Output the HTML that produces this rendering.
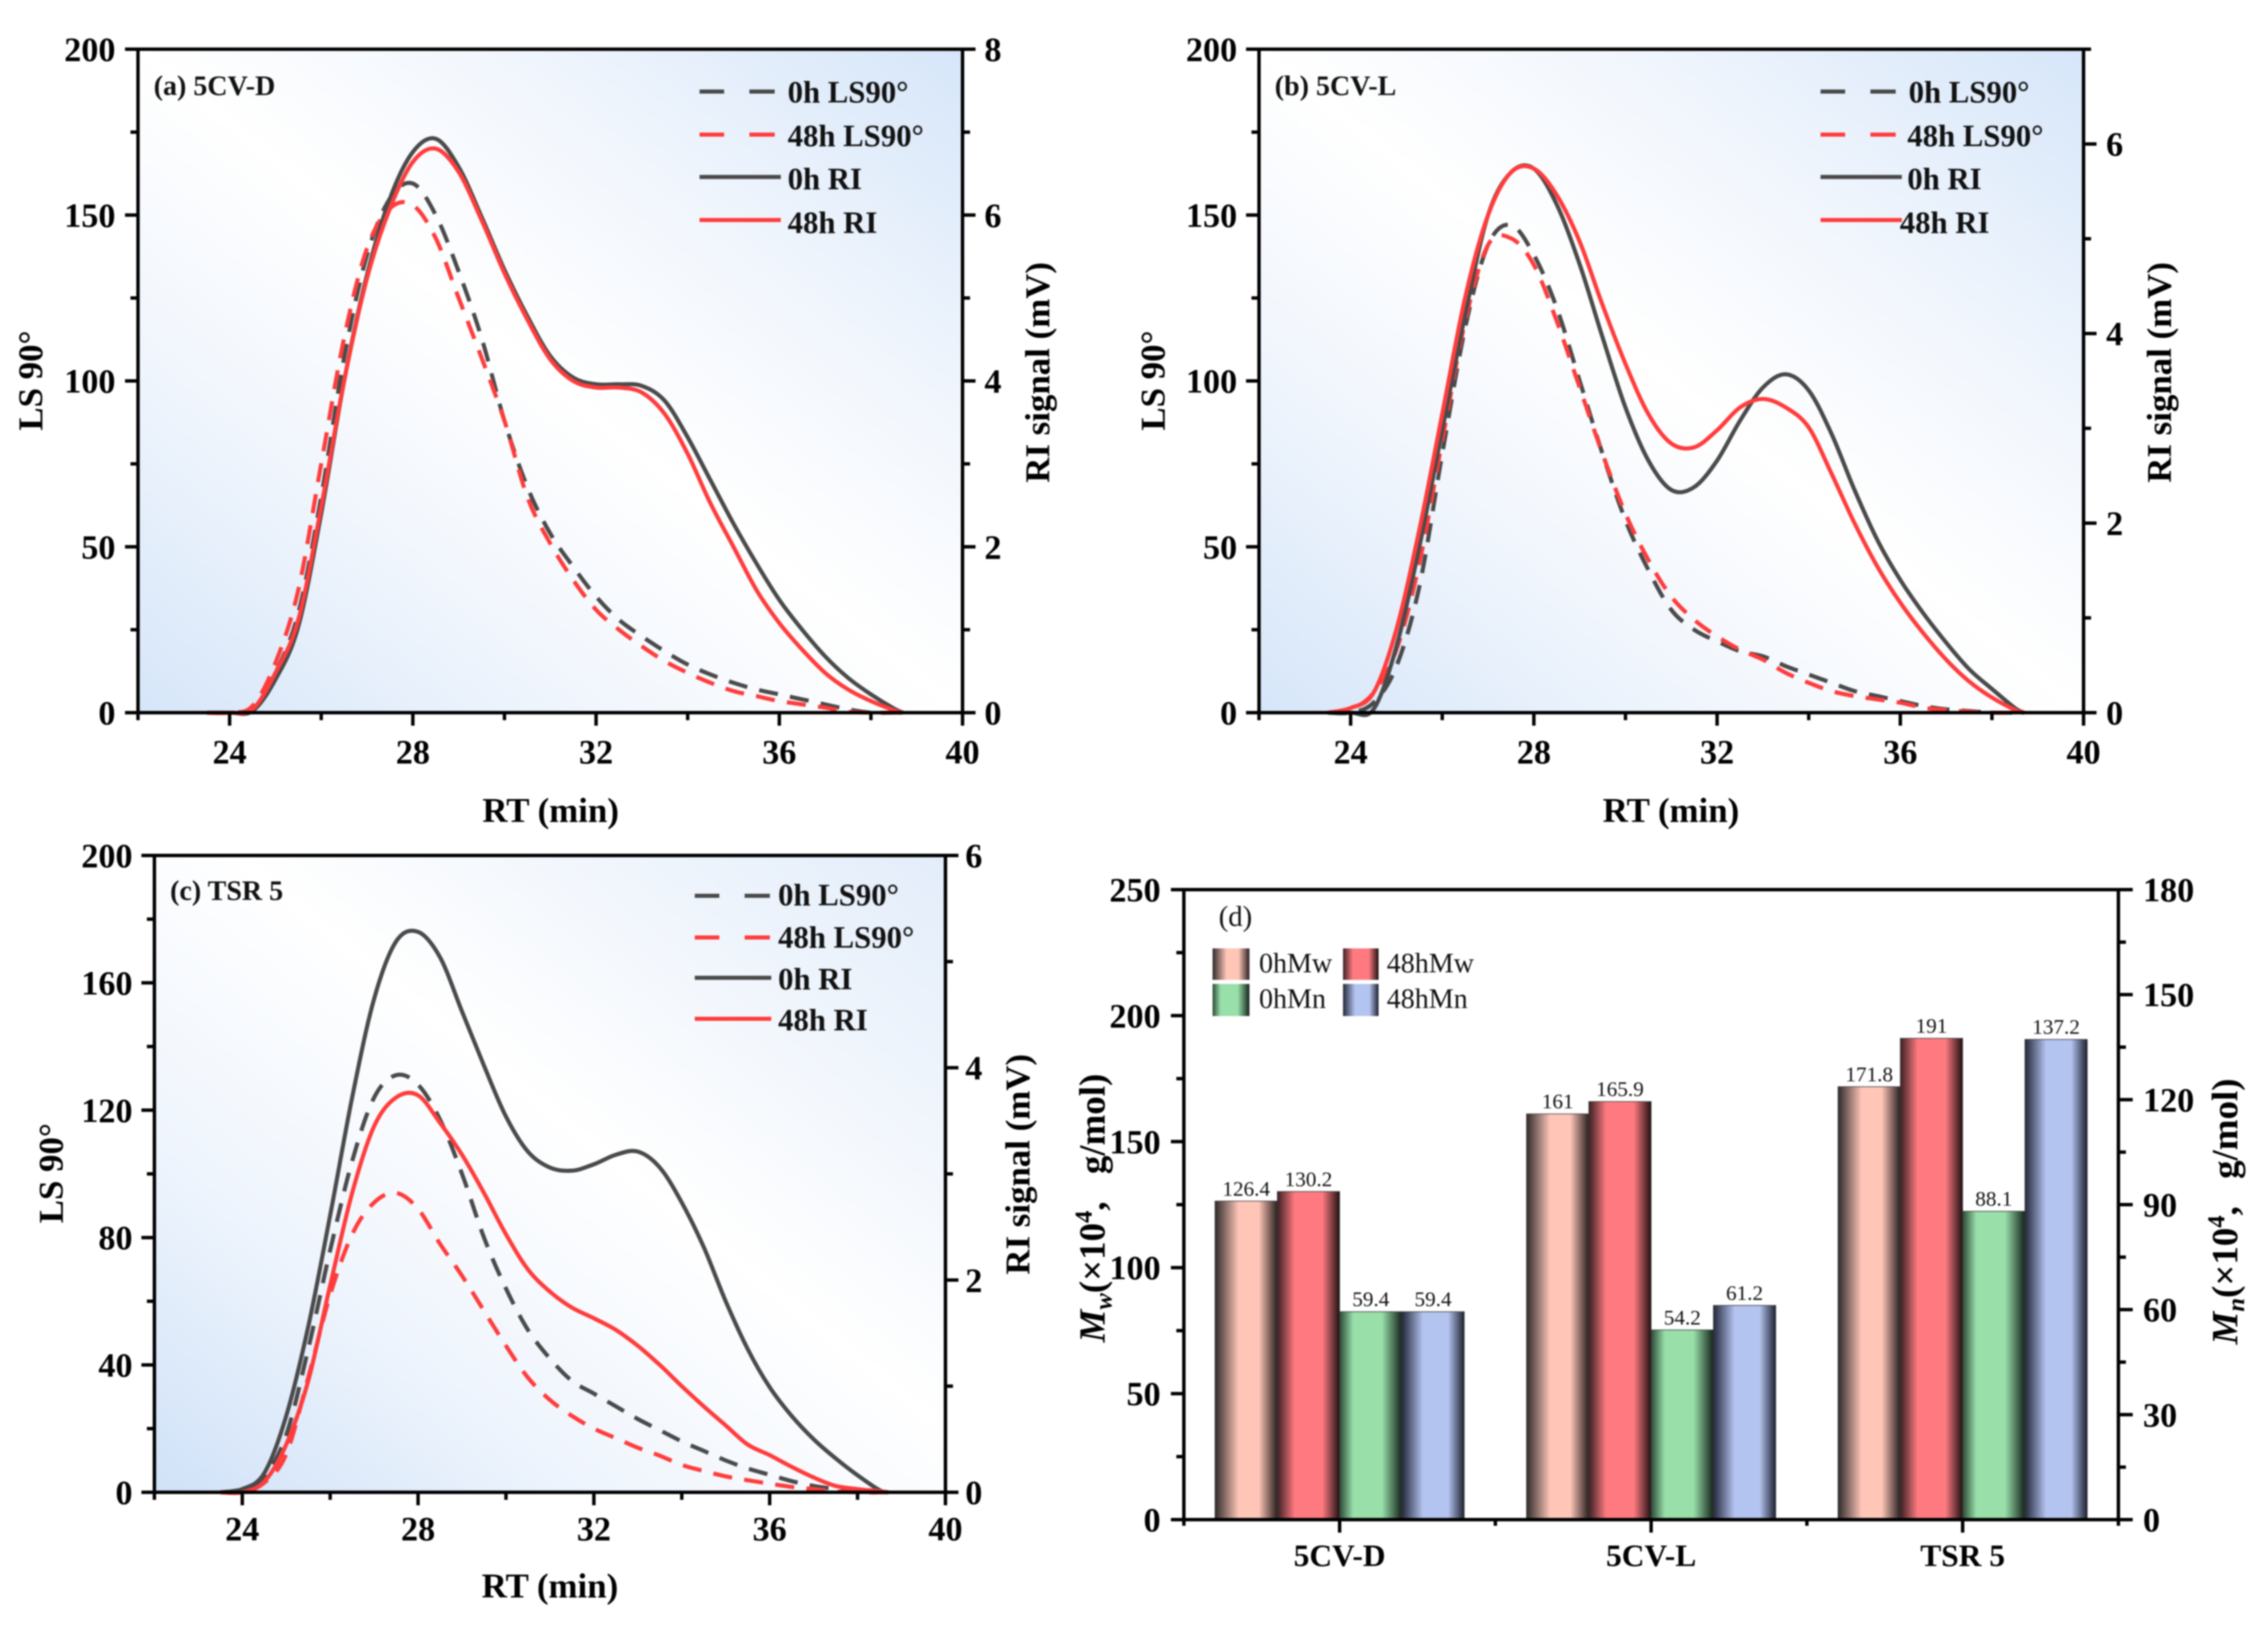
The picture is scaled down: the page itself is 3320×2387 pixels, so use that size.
<!DOCTYPE html>
<html lang="en">
<head>
<meta charset="utf-8">
<title>GPC curves and molecular weights</title>
<style>
html,body{margin:0;padding:0;background:#fff;}
svg{display:block;font-family:"Liberation Serif",serif;filter:blur(1px);}
.b{font-weight:bold;}
.tick{font-size:50px;font-weight:bold;fill:#000;}
.leg{font-size:45px;font-weight:bold;fill:#111;}
.plab{font-size:41px;font-weight:bold;fill:#111;}
.atitle{font-size:51px;font-weight:bold;fill:#000;}
.mtitle{font-size:54px;font-weight:bold;fill:#000;}
.val{font-size:31px;fill:#111;}
.dleg{font-size:41px;fill:#111;}
</style>
</head>
<body>
<svg id="figure" xmlns="http://www.w3.org/2000/svg" width="3320" height="2387" viewBox="0 0 3320 2387">
<defs>
<linearGradient id="plotBg" x1="0" y1="1" x2="1" y2="0">
<stop offset="0" stop-color="#d6e6f9"/><stop offset="0.28" stop-color="#f1f6fd"/><stop offset="0.5" stop-color="#ffffff"/><stop offset="0.72" stop-color="#f1f6fd"/><stop offset="1" stop-color="#d6e6f9"/>
</linearGradient>
<linearGradient id="plotBgC" x1="0" y1="1" x2="1" y2="0">
<stop offset="0" stop-color="#d0e2f8"/><stop offset="0.28" stop-color="#eff5fd"/><stop offset="0.55" stop-color="#ffffff"/><stop offset="1" stop-color="#e3edfa"/>
</linearGradient>
<linearGradient id="bar0hMw"><stop offset="0" stop-color="#2e2a2a"/><stop offset="0.38" stop-color="#ffc6b8"/><stop offset="0.7" stop-color="#ffc6b8"/><stop offset="1" stop-color="#2a1f1f"/></linearGradient>
<linearGradient id="bar48hMw"><stop offset="0" stop-color="#3a2022"/><stop offset="0.28" stop-color="#ff7a80"/><stop offset="0.72" stop-color="#ff7a80"/><stop offset="1" stop-color="#1f1012"/></linearGradient>
<linearGradient id="bar0hMn"><stop offset="0" stop-color="#2c4a36"/><stop offset="0.22" stop-color="#98dfaa"/><stop offset="0.68" stop-color="#98dfaa"/><stop offset="1" stop-color="#14231a"/></linearGradient>
<linearGradient id="bar48hMn"><stop offset="0" stop-color="#23273a"/><stop offset="0.34" stop-color="#b4c4f0"/><stop offset="0.74" stop-color="#b4c4f0"/><stop offset="1" stop-color="#1c2030"/></linearGradient>
</defs>

<g id="panel-a"></g>
<g id="panel-b"></g>
<g id="panel-c"></g>
<g id="panel-d"></g>

<g>
<text class="plab" x="225" y="139">(a) 5CV-D</text>
<text class="atitle" x="806" y="1203" text-anchor="middle">RT (min)</text>
<text class="atitle" transform="translate(62,557) rotate(-90)" text-anchor="middle">LS 90°</text>
<text class="atitle" transform="translate(1536,545) rotate(-90)" text-anchor="middle">RI signal (mV)</text>
<g>
<path d="M1024 134H1060M1097 134H1134" stroke="#4a4a4a" stroke-width="6" fill="none"/>
<path d="M1024 197H1060M1097 197H1134" stroke="#ff3c3c" stroke-width="6" fill="none"/>
<path d="M1024 259H1143" stroke="#4a4a4a" stroke-width="6" fill="none"/>
<path d="M1024 322H1143" stroke="#ff3c3c" stroke-width="6" fill="none"/>
<text class="leg" x="1153" y="150">0h LS90°</text>
<text class="leg" x="1153" y="214">48h LS90°</text>
<text class="leg" x="1153" y="277">0h RI</text>
<text class="leg" x="1153" y="341">48h RI</text>
</g>
</g>

<g>
<text class="plab" x="1866" y="139">(b) 5CV-L</text>
<text class="atitle" x="2446" y="1203" text-anchor="middle">RT (min)</text>
<text class="atitle" transform="translate(1705,557) rotate(-90)" text-anchor="middle">LS 90°</text>
<text class="atitle" transform="translate(3178,545) rotate(-90)" text-anchor="middle">RI signal (mV)</text>
<g>
<path d="M2665 134H2701M2738 134H2775" stroke="#4a4a4a" stroke-width="6" fill="none"/>
<path d="M2665 197H2701M2738 197H2775" stroke="#ff3c3c" stroke-width="6" fill="none"/>
<path d="M2665 259H2784" stroke="#4a4a4a" stroke-width="6" fill="none"/>
<path d="M2665 322H2784" stroke="#ff3c3c" stroke-width="6" fill="none"/>
<text class="leg" x="2794" y="150">0h LS90°</text>
<text class="leg" x="2792" y="214">48h LS90°</text>
<text class="leg" x="2792" y="277">0h RI</text>
<text class="leg" x="2781" y="341">48h RI</text>
</g>
</g>

<g>
<text class="plab" x="249" y="1317">(c) TSR 5</text>
<text class="atitle" x="805" y="2338" text-anchor="middle">RT (min)</text>
<text class="atitle" transform="translate(92,1717) rotate(-90)" text-anchor="middle">LS 90°</text>
<text class="atitle" transform="translate(1507,1704) rotate(-90)" text-anchor="middle">RI signal (mV)</text>
<g>
<path d="M1017 1311H1053M1090 1311H1127" stroke="#4a4a4a" stroke-width="6" fill="none"/>
<path d="M1017 1372H1053M1090 1372H1127" stroke="#ff3c3c" stroke-width="6" fill="none"/>
<path d="M1017 1431H1129" stroke="#4a4a4a" stroke-width="6" fill="none"/>
<path d="M1017 1491H1129" stroke="#ff3c3c" stroke-width="6" fill="none"/>
<text class="leg" x="1139" y="1325">0h LS90°</text>
<text class="leg" x="1139" y="1387">48h LS90°</text>
<text class="leg" x="1139" y="1448">0h RI</text>
<text class="leg" x="1139" y="1508">48h RI</text>
</g>
</g>

<g>
<text x="1784" y="1355" font-size="42" fill="#111">(d)</text>
<g>
<rect x="1775" y="1388" width="54" height="46" fill="url(#bar0hMw)"/>
<rect x="1966" y="1388" width="52" height="46" fill="url(#bar48hMw)"/>
<rect x="1775" y="1440" width="54" height="47" fill="url(#bar0hMn)"/>
<rect x="1966" y="1440" width="52" height="47" fill="url(#bar48hMn)"/>
<text class="dleg" x="1843" y="1423">0hMw</text>
<text class="dleg" x="2030" y="1423">48hMw</text>
<text class="dleg" x="1843" y="1475">0hMn</text>
<text class="dleg" x="2030" y="1475">48hMn</text>
</g>
<text class="mtitle" transform="translate(1617,1768) rotate(-90)" text-anchor="middle"><tspan font-style="italic">M</tspan><tspan font-style="italic" dy="10" font-size="36">w</tspan><tspan dy="-10">(×10</tspan><tspan dy="-19" font-size="36">4</tspan><tspan dy="19">,</tspan><tspan dx="40">g/mol)</tspan></text>
<text class="mtitle" transform="translate(3275,1773) rotate(-90)" text-anchor="middle"><tspan font-style="italic">M</tspan><tspan font-style="italic" dy="10" font-size="36">n</tspan><tspan dy="-10">(×10</tspan><tspan dy="-19" font-size="36">4</tspan><tspan dy="19">,</tspan><tspan dx="40">g/mol)</tspan></text>
</g>
</svg>

<script>
// ---------- shared retention-time grid (min) ----------
const rtGrid = [23.5,24,24.5,25,25.5,26,26.5,27,27.5,28,28.5,29,29.5,30,30.5,31,31.5,32,32.5,33,33.5,34,34.5,35,35.5,36,36.5,37,37.5,38,38.5,38.7];
const rtTicks = [24,28,32,36,40];
const rtMinorTicks = [22,26,30,34,38];

// ---------- panel (a) 5CV-D ----------
const a0hLS = [0,0,1,12,30,65,107,138,155,159.5,150,133,113,88,68,54,44,35,28,23,18.5,14.5,11.5,9,7,5.5,4,2.5,1,0,0,0];
const a48hLS = [0,0,2,15,37,75,113,140,152,153,143,125,107,88,65,51,40,31,25,20,15.5,12,9,6.5,5,3.5,2.5,1.5,0.3,0,0,0];
const a0hRI = [0,0,0.02,0.40,1.04,2.40,4.0,5.28,6.2,6.76,6.92,6.58,5.98,5.34,4.78,4.3,4.04,3.96,3.96,3.94,3.76,3.32,2.8,2.28,1.8,1.36,1.0,0.68,0.42,0.22,0.05,0];
const a48hRI = [0,0,0.04,0.48,1.12,2.48,4.0,5.24,6.08,6.64,6.8,6.52,5.94,5.3,4.74,4.26,4.0,3.92,3.92,3.86,3.6,3.12,2.52,2.0,1.48,1.08,0.76,0.48,0.28,0.14,0.03,0];
const aLsTicks = [0,50,100,150,200];
const aLsMinor = [25,75,125,175];
const aRiTicks = [0,2,4,6,8];
const aRiMinor = [1,3,5,7];

// ---------- panel (b) 5CV-L ----------
const b0hLS = [0,0,3,14,38,78,116,141,147,138,122,100,78,58,43,31,25,21.5,18.5,17,14,11.5,9,6.5,5,3.5,2,1,0.5,0,0,0];
const b48hLS = [0,1,6,19,45,82,118,141,143,135,118,98,78,60,46,35,28,23,19,16,12,9,6.5,5,4,3,1.5,0.8,0.3,0,0,0];
const b0hRI = [0,0,0.035,0.70,1.75,2.98,4.2,5.25,5.7,5.74,5.36,4.73,3.96,3.22,2.66,2.35,2.38,2.66,3.08,3.43,3.57,3.4,2.94,2.35,1.82,1.4,1.05,0.74,0.46,0.25,0.05,0];
const b48hRI = [0,0.05,0.21,0.88,1.93,3.15,4.38,5.25,5.7,5.74,5.46,4.97,4.3,3.68,3.15,2.84,2.8,2.98,3.22,3.31,3.22,3.01,2.52,2.0,1.54,1.16,0.84,0.56,0.33,0.16,0.03,0];
const bLsTicks = [0,50,100,150,200];
const bLsMinor = [25,75,125,175];
const bRiTicks = [0,2,4,6];
const bRiMinor = [1,3,5,7];

// ---------- panel (c) TSR 5 ----------
const c0hLS = [0,1,5,18,45,76,104,124,131,128,117,100,80,64,51,42,35,31,27,23,19.5,16,13,10,7.5,5.5,3.5,2,1,0,0,0];
const c48hLS = [0,0,3,12,36,62,81,91,94,89,78,68,57,46,36,29,24,20,17,14,11.5,8.6,6.7,5,3.8,2.7,1.7,1,0.3,0,0,0];
const c0hRI = [0,0.03,0.18,0.72,1.56,2.61,3.72,4.65,5.19,5.28,5.04,4.53,4.02,3.54,3.21,3.06,3.03,3.09,3.18,3.21,3.06,2.73,2.31,1.8,1.35,0.99,0.72,0.5,0.32,0.16,0.02,0];
const c48hRI = [0,0,0.1,0.45,1.05,1.95,2.82,3.45,3.72,3.74,3.48,3.18,2.82,2.43,2.1,1.89,1.74,1.64,1.53,1.38,1.2,1.0,0.81,0.63,0.45,0.35,0.24,0.14,0.06,0.03,0.01,0];
const cLsTicks = [0,40,80,120,160,200];
const cLsMinor = [20,60,100,140,180];
const cRiTicks = [0,2,4,6];
const cRiMinor = [1,3,5];

// ---------- panel (d) molecular weights ----------
const categories = ['5CV-D','5CV-L','TSR 5'];
const mw0h = [126.4,161,171.8];
const mw48h = [130.2,165.9,191];
const mn0h = [59.4,54.2,88.1];
const mn48h = [59.4,61.2,137.2];
const mwTicks = [0,50,100,150,200,250];
const mwMinor = [25,75,125,175,225];
const mnTicks = [0,30,60,90,120,150,180];
const mnMinor = [15,45,75,105,135,165];

const NS = 'http://www.w3.org/2000/svg';
function make(parent, tag, attrs, text){
  const el = document.createElementNS(NS, tag);
  for (const k in attrs) el.setAttribute(k, attrs[k]);
  if (text !== undefined) el.textContent = text;
  parent.appendChild(el);
  return el;
}
function linear(d0, d1, p0, p1){ return v => p0 + (v - d0) * (p1 - p0) / (d1 - d0); }

function smoothPath(xs, ys){
  let d = 'M' + xs[0].toFixed(1) + ' ' + ys[0].toFixed(1);
  for (let i = 0; i < xs.length - 1; i++){
    const i0 = Math.max(i - 1, 0), i3 = Math.min(i + 2, xs.length - 1);
    const c1x = xs[i] + (xs[i+1] - xs[i0]) / 6, c1y = ys[i] + (ys[i+1] - ys[i0]) / 6;
    const c2x = xs[i+1] - (xs[i3] - xs[i]) / 6, c2y = ys[i+1] - (ys[i3] - ys[i]) / 6;
    d += 'C' + c1x.toFixed(1) + ' ' + c1y.toFixed(1) + ' ' + c2x.toFixed(1) + ' ' + c2y.toFixed(1) + ' ' + xs[i+1].toFixed(1) + ' ' + ys[i+1].toFixed(1);
  }
  return d;
}

function drawTick(g, x1, y1, x2, y2, name){
  const el = make(g, 'line', {x1:x1, y1:y1, x2:x2, y2:y2, stroke:'#000', 'stroke-width':5});
  
  
}
function drawLabel(g, x, y, anchor, txt, name){
  const el = make(g, 'text', {x:x, y:y, 'text-anchor':anchor, class:'tick'}, txt);
  
  
}
function drawFrame(g, L, R, T, B, bg){
  const rect = make(g, 'rect', {x:L, y:T, width:R-L, height:B-T, fill:bg});
  
  
}
function drawBorder(g, L, R, T, B){
  const frame = make(g, 'rect', {x:L, y:T, width:R-L, height:B-T, fill:'none', stroke:'#000', 'stroke-width':5});
  
  
}

function drawLinePanel(id, box, bg, series, lsTicks, lsMinor, riMax, riTicks, riMinor, labelGap){
  const g = document.getElementById(id);
  const {L, R, T, B} = box;
  const xScale = linear(22, 40, L, R);
  const lsScale = linear(0, 200, B, T);
  const riScale = linear(0, riMax, B, T);
  drawFrame(g, L, R, T, B, bg);

  series.forEach(s => {
    const yScale = s.axis === 'ri' ? riScale : lsScale;
    const xs = rtGrid.map(xScale);
    const ys = s.values.map(yScale);
    const p = make(g, 'path', {d:smoothPath(xs, ys), fill:'none', stroke:s.color, 'stroke-width':6, 'stroke-linejoin':'round'});
    if (s.dash) p.setAttribute('stroke-dasharray', s.dash);
    
    
  });

  drawBorder(g, L, R, T, B);

  lsTicks.forEach(v => {
    drawTick(g, L, lsScale(v), L - 19, lsScale(v), 'left-major-tick');
    drawLabel(g, L - labelGap.left, lsScale(v) + 17, 'end', String(v), 'left-tick-label');
  });
  lsMinor.forEach(v => drawTick(g, L, lsScale(v), L - 11, lsScale(v), 'left-minor-tick'));
  riTicks.forEach(v => {
    drawTick(g, R, riScale(v), R + 19, riScale(v), 'right-major-tick');
    drawLabel(g, R + labelGap.right, riScale(v) + 17, 'start', String(v), 'right-tick-label');
  });
  riMinor.forEach(v => drawTick(g, R, riScale(v), R + 11, riScale(v), 'right-minor-tick'));
  rtTicks.forEach(v => {
    drawTick(g, xScale(v), B, xScale(v), B + 19, 'bottom-major-tick');
    drawLabel(g, xScale(v), box.xLabelY, 'middle', String(v), 'bottom-tick-label');
  });
  rtMinorTicks.forEach(v => drawTick(g, xScale(v), B, xScale(v), B + 11, 'bottom-minor-tick'));
}

const COL_0H = '#4a4a4a';
const COL_48H = '#ff3c3c';
const DASH = '28 18';
function seriesFor(ls0, ls48, ri0, ri48){
  return [
    {name:'curve-0h-ls90', axis:'ls', values:ls0, color:COL_0H, dash:DASH},
    {name:'curve-48h-ls90', axis:'ls', values:ls48, color:COL_48H, dash:DASH},
    {name:'curve-0h-ri', axis:'ri', values:ri0, color:COL_0H},
    {name:'curve-48h-ri', axis:'ri', values:ri48, color:COL_48H}
  ];
}

drawLinePanel('panel-a', {L:202, R:1409, T:72, B:1043, xLabelY:1117}, 'url(#plotBg)',
  seriesFor(a0hLS, a48hLS, a0hRI, a48hRI), aLsTicks, aLsMinor, 8, aRiTicks, aRiMinor, {left:33, right:32});
drawLinePanel('panel-b', {L:1843, R:3050, T:72, B:1043, xLabelY:1117}, 'url(#plotBg)',
  seriesFor(b0hLS, b48hLS, b0hRI, b48hRI), bLsTicks, bLsMinor, 7, bRiTicks, bRiMinor, {left:32, right:33});
drawLinePanel('panel-c', {L:226, R:1384, T:1252, B:2184, xLabelY:2254}, 'url(#plotBgC)',
  seriesFor(c0hLS, c48hLS, c0hRI, c48hRI), cLsTicks, cLsMinor, 6, cRiTicks, cRiMinor, {left:32, right:29});

// ---------- bar panel ----------
(function(){
  const g = document.getElementById('panel-d');
  const L = 1733, R = 3101, T = 1302, B = 2224;
  const mwScale = linear(0, 250, B, T);
  const mnScale = linear(0, 180, B, T);
  const catWidth = (R - L) / categories.length;
  const barWidth = catWidth * 0.2;
  const catCenter = i => L + catWidth * (i + 0.5);
  drawFrame(g, L, R, T, B, '#ffffff');

  const barSeries = [
    {name:'bar-0h-mw', values:mw0h, scale:mwScale, fill:'url(#bar0hMw)'},
    {name:'bar-48h-mw', values:mw48h, scale:mwScale, fill:'url(#bar48hMw)'},
    {name:'bar-0h-mn', values:mn0h, scale:mnScale, fill:'url(#bar0hMn)'},
    {name:'bar-48h-mn', values:mn48h, scale:mnScale, fill:'url(#bar48hMn)'}
  ];
  barSeries.forEach((s, si) => {
    s.values.forEach((v, ci) => {
      const x = catCenter(ci) + (si - 2) * barWidth;
      const y = s.scale(v);
      const bar = make(g, 'rect', {x:x, y:y, width:barWidth, height:B - y, fill:s.fill, stroke:'#3a3a3a', 'stroke-width':1});
      
      
      const lab = make(g, 'text', {x:x + barWidth / 2, y:y - 8, 'text-anchor':'middle', class:'val'}, String(v));
      
      
    });
  });

  drawBorder(g, L, R, T, B);

  mwTicks.forEach(v => {
    drawTick(g, L, mwScale(v), L - 19, mwScale(v), 'left-major-tick');
    drawLabel(g, L - 34, mwScale(v) + 17, 'end', String(v), 'left-tick-label');
  });
  mwMinor.forEach(v => drawTick(g, L, mwScale(v), L - 11, mwScale(v), 'left-minor-tick'));
  mnTicks.forEach(v => {
    drawTick(g, R, mnScale(v), R + 21, mnScale(v), 'right-major-tick');
    drawLabel(g, R + 36, mnScale(v) + 17, 'start', String(v), 'right-tick-label');
  });
  mnMinor.forEach(v => drawTick(g, R, mnScale(v), R + 11, mnScale(v), 'right-minor-tick'));
  categories.forEach((c, i) => {
    drawTick(g, catCenter(i), B, catCenter(i), B + 19, 'category-major-tick');
    const lab = make(g, 'text', {x:catCenter(i), y:2292, 'text-anchor':'middle', 'font-size':46, 'font-weight':'bold', fill:'#000'}, c);
    
    
  });
  for (let i = 0; i <= categories.length; i++){
    drawTick(g, L + catWidth * i, B, L + catWidth * i, B + 9, 'category-minor-tick');
  }
})();
</script>
</body>
</html>
